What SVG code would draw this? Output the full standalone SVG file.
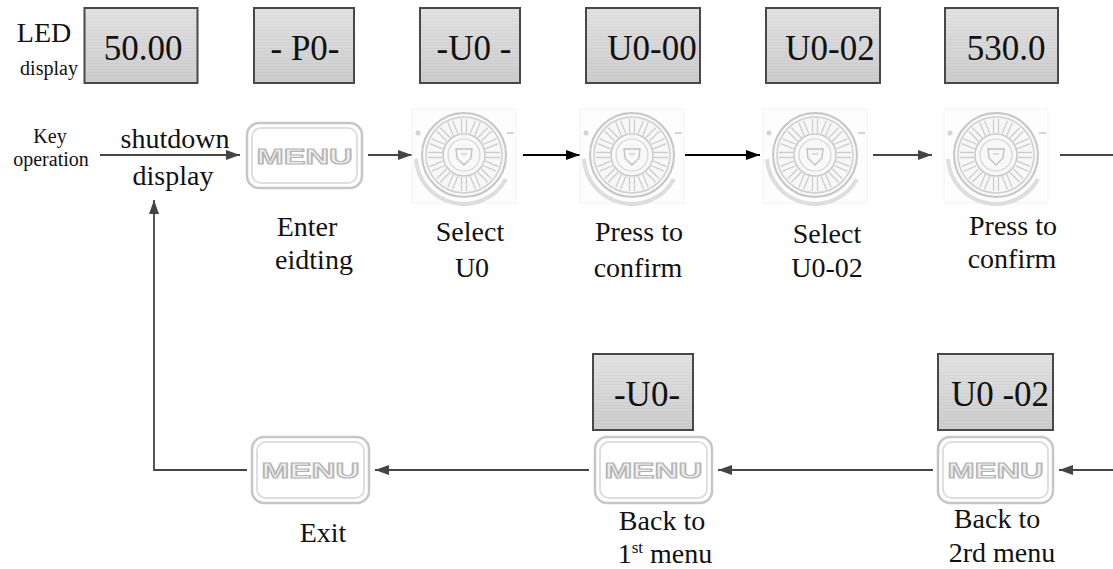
<svg xmlns="http://www.w3.org/2000/svg" xmlns:xlink="http://www.w3.org/1999/xlink" width="1113" height="569" viewBox="0 0 1113 569">
<style>
.lbl{font-family:"Liberation Serif","Times New Roman",serif;font-size:28px;fill:#111;text-anchor:middle}
.small{font-family:"Liberation Serif","Times New Roman",serif;font-size:20px;fill:#111;text-anchor:middle}
.led{font-family:"Liberation Serif","Times New Roman",serif;font-size:35px;fill:#111;text-anchor:middle}
.box{fill:url(#boxg);stroke:#484848;stroke-width:2}
.stripe{fill:url(#stripes)}
.mb-out{fill:#fff;stroke:#c6c6c6;stroke-width:2.5}
.mb-in{fill:none;stroke:#dedede;stroke-width:2}
.menu{font-family:"Liberation Sans",Arial,sans-serif;font-weight:bold;font-size:22px;fill:#eeeeee;stroke:#b4b4b4;stroke-width:1.2;text-anchor:middle}
.ln{fill:none;stroke:#454545;stroke-width:1.8}
.lnk{fill:none;stroke:#000;stroke-width:1.8}
</style>
<defs>
<linearGradient id="boxg" x1="0" y1="0" x2="0" y2="1">
<stop offset="0" stop-color="#e2e2e2"/>
<stop offset="1" stop-color="#cdcdcd"/>
</linearGradient>
<pattern id="stripes" width="4" height="3" patternUnits="userSpaceOnUse">
<rect x="0" y="0" width="4" height="1" fill="#000" fill-opacity="0.025"/>
</pattern>
<marker id="ah" viewBox="0 0 14 10" refX="14" refY="5" markerWidth="14" markerHeight="10" markerUnits="userSpaceOnUse" orient="auto">
<path d="M0,0 L14,5 L0,10 Z" fill="#454545"/>
</marker>
<marker id="ahk" viewBox="0 0 14 10" refX="14" refY="5" markerWidth="14" markerHeight="10" markerUnits="userSpaceOnUse" orient="auto">
<path d="M0,0 L14,5 L0,10 Z" fill="#000"/>
</marker>
<g id="knob">
<rect x="-52" y="-46" width="104" height="94" fill="#fdfdfd" stroke="#f2f2f2" stroke-width="1"/>
<path d="M-48,4 A48,48 0 0 0 42,24" fill="none" stroke="#dedede" stroke-width="4"/>
<circle cx="-46" cy="-22" r="2.5" fill="#d4d4d4"/>
<line x1="43" y1="-22" x2="50" y2="-22" stroke="#d4d4d4" stroke-width="2"/>
<circle r="42" fill="#f7f7f7" stroke="#c6c6c6" stroke-width="2"/>
<circle r="38" fill="none" stroke="#d0d0d0" stroke-width="1.5"/>
<g stroke="#cdcdcd" stroke-width="1.3">
<path d="M-2.5,-22 L-2.5,-36 M2.5,-22 L2.5,-36"/>
<path d="M-2.5,-22 L-2.5,-36 M2.5,-22 L2.5,-36" transform="rotate(22.5)"/>
<path d="M-2.5,-22 L-2.5,-36 M2.5,-22 L2.5,-36" transform="rotate(45)"/>
<path d="M-2.5,-22 L-2.5,-36 M2.5,-22 L2.5,-36" transform="rotate(67.5)"/>
<path d="M-2.5,-22 L-2.5,-36 M2.5,-22 L2.5,-36" transform="rotate(90)"/>
<path d="M-2.5,-22 L-2.5,-36 M2.5,-22 L2.5,-36" transform="rotate(112.5)"/>
<path d="M-2.5,-22 L-2.5,-36 M2.5,-22 L2.5,-36" transform="rotate(135)"/>
<path d="M-2.5,-22 L-2.5,-36 M2.5,-22 L2.5,-36" transform="rotate(157.5)"/>
<path d="M-2.5,-22 L-2.5,-36 M2.5,-22 L2.5,-36" transform="rotate(180)"/>
<path d="M-2.5,-22 L-2.5,-36 M2.5,-22 L2.5,-36" transform="rotate(202.5)"/>
<path d="M-2.5,-22 L-2.5,-36 M2.5,-22 L2.5,-36" transform="rotate(225)"/>
<path d="M-2.5,-22 L-2.5,-36 M2.5,-22 L2.5,-36" transform="rotate(247.5)"/>
<path d="M-2.5,-22 L-2.5,-36 M2.5,-22 L2.5,-36" transform="rotate(270)"/>
<path d="M-2.5,-22 L-2.5,-36 M2.5,-22 L2.5,-36" transform="rotate(292.5)"/>
<path d="M-2.5,-22 L-2.5,-36 M2.5,-22 L2.5,-36" transform="rotate(315)"/>
<path d="M-2.5,-22 L-2.5,-36 M2.5,-22 L2.5,-36" transform="rotate(337.5)"/>
</g>
<circle r="21" fill="#f8f8f8" stroke="#c9c9c9" stroke-width="1.5"/>
<circle r="16" fill="none" stroke="#d4d4d4" stroke-width="1.2"/>
<path d="M-8,-6 L8,-6 L7,3 L0,10 L-7,3 Z" fill="none" stroke="#c0c0c0" stroke-width="1.4"/>
<line x1="-3" y1="-1" x2="3" y2="-1" stroke="#c6c6c6" stroke-width="1.2"/>
</g>
</defs>
<rect width="1113" height="569" fill="#fff"/>

<g id="connectors">
<line class="ln" x1="100" y1="155" x2="240" y2="155" marker-end="url(#ah)"/>
<line class="ln" x1="368" y1="155" x2="412" y2="155" marker-end="url(#ah)"/>
<line class="lnk" x1="523" y1="155" x2="580" y2="155" marker-end="url(#ahk)"/>
<line class="lnk" x1="685" y1="155" x2="760" y2="155" marker-end="url(#ahk)"/>
<line class="ln" x1="873" y1="155" x2="932" y2="155" marker-end="url(#ah)"/>
<line class="ln" x1="1060" y1="155" x2="1113" y2="155"/>
<line class="ln" x1="1113" y1="470" x2="1059" y2="470" marker-end="url(#ah)"/>
<line class="ln" x1="933" y1="470" x2="718" y2="470" marker-end="url(#ah)"/>
<line class="ln" x1="589" y1="470" x2="375" y2="470" marker-end="url(#ah)"/>
<polyline class="ln" points="247,470 154,470 154,200" marker-end="url(#ah)"/>
</g>

<g id="legend">
<text x="44" y="42" class="lbl">LED</text>
<text x="49" y="75" class="small">display</text>
<text x="50" y="143" class="small">Key</text>
<text x="51" y="166" class="small">operation</text>
</g>

<g id="led-50">
<rect class="box" x="84.5" y="8" width="113" height="75"/>
<rect class="stripe" x="85.5" y="9" width="111" height="73"/>
<text x="143" y="60" class="led">50.00</text>
</g>
<g id="led-p0">
<rect class="box" x="254" y="8" width="100" height="75"/>
<rect class="stripe" x="255" y="9" width="98" height="73"/>
<text x="305" y="60" class="led">- P0-</text>
</g>
<g id="led-u0">
<rect class="box" x="420" y="8" width="100" height="75"/>
<rect class="stripe" x="421" y="9" width="98" height="73"/>
<text x="474" y="60" class="led">-U0 -</text>
</g>
<g id="led-u000">
<rect class="box" x="586" y="8" width="114" height="75"/>
<rect class="stripe" x="587" y="9" width="112" height="73"/>
<text x="652" y="60" class="led">U0-00</text>
</g>
<g id="led-u002">
<rect class="box" x="766" y="8" width="114" height="75"/>
<rect class="stripe" x="767" y="9" width="112" height="73"/>
<text x="830" y="60" class="led">U0-02</text>
</g>
<g id="led-530">
<rect class="box" x="945" y="8" width="113" height="75"/>
<rect class="stripe" x="946" y="9" width="111" height="73"/>
<text x="1006" y="60" class="led">530.0</text>
</g>

<g id="shutdown">
<text x="175" y="148" class="lbl">shutdown</text>
<text x="173" y="185" class="lbl">display</text>
</g>

<g id="menu-enter">
<rect class="mb-out" x="247" y="123" width="115" height="65" rx="12"/>
<rect class="mb-in" x="252" y="128" width="105" height="55" rx="9"/>
<text x="304.5" y="164" class="menu" textLength="96" lengthAdjust="spacingAndGlyphs">MENU</text>
<text x="307" y="236" class="lbl">Enter</text>
<text x="314" y="269" class="lbl">eidting</text>
</g>

<g id="knob-select-u0">
<use xlink:href="#knob" x="464" y="155"/>
<text x="470" y="241" class="lbl">Select</text>
<text x="472" y="277" class="lbl">U0</text>
</g>
<g id="knob-confirm-1">
<use xlink:href="#knob" x="632" y="155"/>
<text x="639" y="241" class="lbl">Press to</text>
<text x="638" y="277" class="lbl">confirm</text>
</g>
<g id="knob-select-u002">
<use xlink:href="#knob" x="815" y="155"/>
<text x="827" y="243" class="lbl">Select</text>
<text x="827" y="277" class="lbl">U0-02</text>
</g>
<g id="knob-confirm-2">
<use xlink:href="#knob" x="996" y="155"/>
<text x="1013" y="235" class="lbl">Press to</text>
<text x="1012" y="268" class="lbl">confirm</text>
</g>

<g id="menu-exit">
<rect class="mb-out" x="252" y="437" width="117" height="66" rx="12"/>
<rect class="mb-in" x="257" y="442" width="107" height="56" rx="9"/>
<text x="310.5" y="478" class="menu" textLength="98" lengthAdjust="spacingAndGlyphs">MENU</text>
<text x="323" y="542" class="lbl">Exit</text>
</g>

<g id="menu-back1">
<rect class="box" x="593" y="354" width="100" height="76"/>
<rect class="stripe" x="594" y="355" width="98" height="74"/>
<text x="647" y="406" class="led">-U0-</text>
<rect class="mb-out" x="595" y="437" width="117" height="66" rx="12"/>
<rect class="mb-in" x="600" y="442" width="107" height="56" rx="9"/>
<text x="653.5" y="478" class="menu" textLength="98" lengthAdjust="spacingAndGlyphs">MENU</text>
<text x="662" y="530" class="lbl">Back to</text>
<text x="665" y="563" class="lbl">1<tspan dy="-10" font-size="17">st</tspan><tspan dy="10"> menu</tspan></text>
</g>

<g id="menu-back2">
<rect class="box" x="938" y="354" width="115" height="76"/>
<rect class="stripe" x="939" y="355" width="113" height="74"/>
<text x="1000" y="406" class="led">U0 -02</text>
<rect class="mb-out" x="938" y="437" width="115" height="66" rx="12"/>
<rect class="mb-in" x="943" y="442" width="105" height="56" rx="9"/>
<text x="995.5" y="478" class="menu" textLength="96" lengthAdjust="spacingAndGlyphs">MENU</text>
<text x="997" y="528" class="lbl">Back to</text>
<text x="1002" y="562" class="lbl">2rd menu</text>
</g>
</svg>
